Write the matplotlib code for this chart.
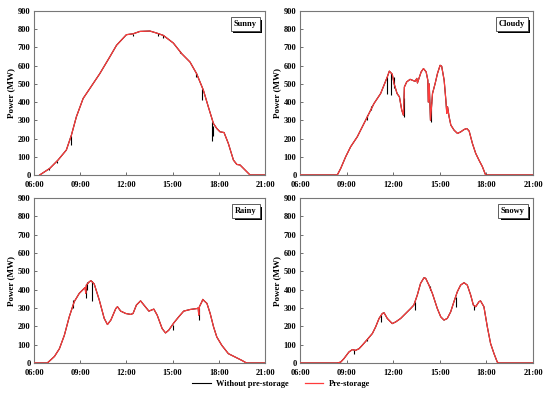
import matplotlib
matplotlib.use("Agg")
import matplotlib.pyplot as plt
from matplotlib.patches import Rectangle
from matplotlib.lines import Line2D

plt.rcParams['font.family'] = ['Liberation Serif', 'DejaVu Serif']
plt.rcParams['font.weight'] = 'bold'

# ---------------- data (hours, MW) ----------------
sunny_t = [6.37, 7.02, 7.56, 8.10, 8.43, 8.75, 9.19, 9.62, 10.27, 10.92, 11.36, 12.00, 12.44,
           12.88, 13.53, 13.96, 14.40, 15.05, 15.59, 16.13, 16.56, 17.00, 17.32, 17.65, 17.87,
           18.08, 18.34, 18.62, 18.95, 19.17, 19.38, 19.71, 20.03, 21.0]
sunny_v = [0, 36, 82, 137, 219, 319, 420, 474, 556, 648, 712, 770, 775,
           788, 790, 779, 766, 724, 666, 620, 556, 465, 374, 283, 255,
           237, 233, 173, 82, 58, 55, 27, 0, 0]
sunny_dip_t = [7.00, 7.50, 8.42, 12.45, 14.05, 14.40, 15.50, 16.55, 16.90, 17.55, 17.62]
sunny_dip_top = [38, 78, 215, 775, 778, 766, 680, 560, 470, 290, 270]
sunny_dip_bot = [28, 68, 164, 765, 765, 752, 668, 538, 410, 185, 215]

cloudy_t = [6.0, 8.40, 8.62, 8.94, 9.26, 9.69, 10.12, 10.55, 10.76, 11.19, 11.62, 11.75, 11.94,
            12.06, 12.25, 12.40, 12.55, 12.66, 12.72, 12.87, 13.09, 13.41, 13.52, 13.56, 13.80,
            13.95, 14.12, 14.23, 14.26, 14.32, 14.40, 14.53, 14.70, 14.85, 15.02, 15.12, 15.28,
            15.39, 15.45, 15.50, 15.60, 15.71, 15.92, 16.14, 16.35, 16.57, 16.74, 16.89, 17.10,
            17.31, 17.52, 17.74, 17.95, 21.0]
cloudy_v = [0, 0, 36, 100, 155, 210, 283, 356, 392, 447, 538, 570, 553,
            500, 447, 429, 356, 328, 483, 511, 525, 514, 530, 505, 566,
            584, 566, 520, 400, 500, 300, 447, 502, 557, 602, 597, 520,
            411, 338, 374, 319, 274, 246, 228, 237, 250, 255, 241, 173,
            119, 82, 46, 0, 0]
cloudy_dip_t = [10.30, 10.55, 11.60, 11.85, 12.02, 12.70, 14.42]
cloudy_dip_top = [300, 380, 540, 560, 540, 420, 400]
cloudy_dip_bot = [328, 356, 447, 438, 480, 320, 292]

rainy_t = [6.0, 6.86, 7.01, 7.33, 7.65, 7.97, 8.29, 8.61, 8.94, 9.26, 9.32, 9.36, 9.40, 9.59,
           9.70, 9.91, 10.24, 10.56, 10.77, 10.99, 11.31, 11.42, 11.63, 11.96, 12.28, 12.43,
           12.65, 12.92, 13.14, 13.46, 13.78, 14.00, 14.32, 14.54, 14.75, 15.08, 15.40, 15.72,
           16.15, 16.58, 16.66, 16.70, 16.74, 16.90, 16.96, 17.05, 17.23, 17.44, 17.66, 17.87,
           18.19, 18.62, 19.05, 19.48, 19.80, 21.0]
rainy_v = [0, 0, 11, 36, 78, 151, 252, 334, 380, 407, 412, 380, 425, 443,
           449, 431, 343, 243, 210, 234, 297, 307, 283, 270, 265, 270,
           316, 339, 316, 283, 294, 261, 188, 164, 179, 219, 252, 283,
           292, 297, 300, 261, 307, 334, 347, 339, 325, 270, 197, 142,
           97, 51, 33, 15, 0, 0]
rainy_dip_t = [8.52, 9.35, 9.45, 9.78, 15.00, 16.69]
rainy_dip_top = [345, 410, 440, 447, 205, 300]
rainy_dip_bot = [300, 352, 400, 338, 179, 237]

snowy_t = [6.0, 8.40, 8.62, 8.83, 9.15, 9.37, 9.58, 9.80, 10.01, 10.33, 10.66, 10.87, 11.09,
           11.30, 11.41, 11.62, 11.94, 12.16, 12.48, 12.80, 13.12, 13.33, 13.55, 13.76, 13.98,
           14.09, 14.30, 14.52, 14.84, 15.06, 15.27, 15.48, 15.70, 15.91, 16.13, 16.34, 16.56,
           16.77, 16.99, 17.16, 17.31, 17.52, 17.62, 17.84, 18.06, 18.27, 18.49, 18.70, 18.80, 21.0]
snowy_v = [0, 0, 5, 24, 60, 73, 69, 78, 97, 128, 161, 197, 243,
           270, 274, 243, 215, 224, 243, 270, 297, 316, 370, 434, 465,
           462, 425, 380, 297, 252, 234, 243, 279, 334, 389, 425, 438,
           425, 370, 316, 307, 334, 339, 307, 197, 106, 51, 5, 0, 0]
snowy_dip_t = [9.47, 10.33, 11.20, 13.43, 14.35, 16.02, 17.20]
snowy_dip_top = [70, 130, 260, 335, 420, 360, 315]
snowy_dip_bot = [51, 118, 224, 288, 400, 307, 288]

panels = [
    ("Sunny", sunny_t, sunny_v, sunny_dip_t, sunny_dip_top, sunny_dip_bot),
    ("Cloudy", cloudy_t, cloudy_v, cloudy_dip_t, cloudy_dip_top, cloudy_dip_bot),
    ("Rainy", rainy_t, rainy_v, rainy_dip_t, rainy_dip_top, rainy_dip_bot),
    ("Snowy", snowy_t, snowy_v, snowy_dip_t, snowy_dip_top, snowy_dip_bot),
]

xticks = [6, 9, 12, 15, 18, 21]
xticklabels = ["06:00", "09:00", "12:00", "15:00", "18:00", "21:00"]
yticks = list(range(0, 901, 100))

RED = '#ff3b3b'

# ---------------- figure ----------------
fig = plt.figure(figsize=(5.5, 3.94), dpi=100)
W, H = 550, 394
boxes = [(34, 265, 11, 175), (300, 533, 11, 175), (34, 265, 198, 363), (300, 533, 198, 363)]

labels = []
for (name, t, v, dt, dtop, dbot), (x0, x1, y0, y1) in zip(panels, boxes):
    ax = fig.add_axes([x0 / W, 1 - y1 / H, (x1 - x0) / W, (y1 - y0) / H])
    ax.plot(t, v, color='black', lw=0.8, zorder=2)
    ax.vlines(dt, dbot, dtop, color='black', lw=0.8, zorder=2)
    ax.plot(t, v, color=RED, lw=0.9, zorder=3)
    ax.set_xlim(6, 21)
    ax.set_ylim(0, 900)
    ax.set_xticks(xticks)
    ax.set_xticklabels(xticklabels)
    ax.set_yticks(yticks)
    ax.tick_params(direction='in', length=2.5, width=0.6, labelsize=6, color='#555555')
    ax.tick_params(axis='x', pad=4.5)
    ax.tick_params(axis='y', pad=2.5)
    for lab in ax.get_xticklabels() + ax.get_yticklabels():
        lab.set_fontweight('bold')
    ax.set_ylabel("Power (MW)", fontsize=6.5, fontweight='bold', labelpad=2)
    for s in ax.spines.values():
        s.set_color('#777777')
        s.set_linewidth(0.8)
    txt = ax.text(0.965, 0.945, name, transform=ax.transAxes, ha='right', va='top',
                  fontsize=6, fontweight='bold', color='black',
                  bbox=dict(boxstyle='square,pad=0.35', fc='white', ec='#444444', lw=0.6),
                  zorder=5)
    labels.append((ax, txt))

handles = [Line2D([], [], color='black', lw=0.8), Line2D([], [], color=RED, lw=0.9)]
fig.legend(handles, ["Without pre-storage", "Pre-storage"], loc='center',
           bbox_to_anchor=(281 / W, 1 - 384 / H), ncol=2, frameon=False,
           prop={'size': 6, 'weight': 'bold'}, handlelength=2.2, columnspacing=2.0,
           handletextpad=0.6)

# shadow rectangles behind the label boxes
fig.canvas.draw()
for ax, txt in labels:
    bb = txt.get_bbox_patch().get_window_extent()
    inv = ax.transAxes.inverted()
    (ax0, ay0), (ax1, ay1) = inv.transform([[bb.x0 + 2.5, bb.y0 - 2.5], [bb.x1 + 2.5, bb.y1 - 2.5]])
    ax.add_patch(Rectangle((ax0, ay0), ax1 - ax0, ay1 - ay0, transform=ax.transAxes,
                           fc='black', ec='black', lw=0, zorder=4, clip_on=False))

fig.savefig("out.png", dpi=100)
